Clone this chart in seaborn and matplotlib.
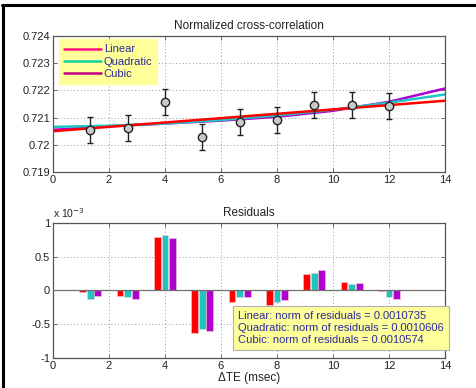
import numpy as np
import pandas as pd
import matplotlib
matplotlib.use("Agg")
import matplotlib.pyplot as plt
import seaborn as sns
from matplotlib.lines import Line2D

# ---- data ----
te = [1.333, 2.667, 4.0, 5.333, 6.667, 8.0, 9.333, 10.667, 12.0]
ncc = [0.72055, 0.72062, 0.72159, 0.72029, 0.72085, 0.72091, 0.72145, 0.72145, 0.72143]
ncc_err = [0.00048, 0.00048, 0.00048, 0.00048, 0.00048, 0.00048, 0.00048, 0.00048, 0.00048]

fit_x = [0, 2, 4, 6, 8, 10, 12, 14]
fit_linear = [0.72050, 0.72066, 0.72082, 0.72098, 0.72114, 0.72130, 0.72146, 0.72162]
fit_quadratic = [0.72066, 0.72070, 0.72078, 0.72091, 0.72108, 0.72129, 0.72155, 0.72185]
fit_cubic = [0.72055, 0.72068, 0.72078, 0.72089, 0.72103, 0.72125, 0.72158, 0.72207]

res_linear = [-0.025, -0.08, 0.79, -0.63, -0.165, -0.22, 0.24, 0.12, -0.01]
res_quadratic = [-0.12, -0.10, 0.82, -0.57, -0.10, -0.17, 0.26, 0.095, -0.095]
res_cubic = [-0.085, -0.12, 0.78, -0.60, -0.10, -0.145, 0.30, 0.115, -0.125]

fit_names = ["Linear", "Quadratic", "Cubic"]
norms = ["0.0010735", "0.0010606", "0.0010574"]

plot_colors = ["#FF0000", "#20C4C4", "#B000D0"]
legend_colors = ["#FF1080", "#10D0A0", "#C00080"]
text_blue = "#2A2AA0"

sns.set_theme(style="white")
plt.rcParams["font.family"] = ["Liberation Sans", "DejaVu Sans"]
plt.rcParams["font.size"] = 8

fig = plt.figure(figsize=(4.76, 3.88), dpi=100)
fig.patch.set_facecolor("white")
ax1 = fig.add_axes([0.1113, 0.5567, 0.8235, 0.3505])
ax2 = fig.add_axes([0.1113, 0.0773, 0.8235, 0.348])

def style_axes(ax):
    for s in ax.spines.values():
        s.set_visible(True)
        s.set_color("#555555")
        s.set_linewidth(0.9)
    ax.tick_params(direction="in", length=3, width=0.6, color="#555555",
                   labelsize=8, top=True, right=True, bottom=True, left=True,
                   labelcolor="#222222", pad=2)
    ax.grid(True, linestyle=(0, (1, 2.5)), color="#9A9A9A", linewidth=0.7)
    ax.set_axisbelow(True)

# ---- top panel ----
fits_df = pd.DataFrame({
    "x": fit_x * 3,
    "y": fit_linear + fit_quadratic + fit_cubic,
    "fit": ["Linear"] * len(fit_x) + ["Quadratic"] * len(fit_x) + ["Cubic"] * len(fit_x),
})
# draw Cubic, Quadratic, then Linear on top (as in reference)
for name, col in zip(["Cubic", "Quadratic", "Linear"], [plot_colors[2], plot_colors[1], plot_colors[0]]):
    sub = fits_df[fits_df["fit"] == name]
    sns.lineplot(data=sub, x="x", y="y", color=col, linewidth=1.8, ax=ax1, legend=False)

ax1.errorbar(te, ncc, yerr=ncc_err, fmt="none", ecolor="#222222", elinewidth=1.0,
             capsize=2.2, capthick=1.0, zorder=4)
sns.scatterplot(x=te, y=ncc, ax=ax1, s=36, color="#C8C8C8", edgecolor="#222222",
                linewidth=1.0, zorder=5)

ax1.set_xlim(0, 14)
ax1.set_ylim(0.719, 0.724)
ax1.set_xticks(range(0, 15, 2))
ax1.set_yticks([0.719, 0.720, 0.721, 0.722, 0.723, 0.724])
ax1.set_yticklabels(["0.719", "0.72", "0.721", "0.722", "0.723", "0.724"])
ax1.set_xlabel("")
ax1.set_ylabel("")
ax1.set_title("Normalized cross-correlation", fontsize=8.5, color="#222222", pad=5)
style_axes(ax1)

handles = [Line2D([0], [0], color=c, lw=1.8) for c in legend_colors]
leg = ax1.legend(handles, fit_names, loc="upper left", bbox_to_anchor=(0.015, 0.975),
                 frameon=True, fancybox=False, fontsize=8, handlelength=3.3,
                 handletextpad=0.3, borderpad=0.45, labelspacing=0.2,
                 borderaxespad=0.0)
leg.get_frame().set_facecolor("#FFFF99")
leg.get_frame().set_edgecolor("#FFFF99")
leg.get_frame().set_alpha(1.0)
for t in leg.get_texts():
    t.set_color(text_blue)

# ---- bottom panel ----
res_df = pd.DataFrame({
    "x": te * 3,
    "res": res_linear + res_quadratic + res_cubic,
    "fit": ["Linear"] * len(te) + ["Quadratic"] * len(te) + ["Cubic"] * len(te),
})
sns.barplot(data=res_df, x="x", y="res", hue="fit", hue_order=fit_names,
            palette=plot_colors, native_scale=True, width=0.61, gap=0.1,
            ax=ax2, legend=False, saturation=1, edgecolor="#F0D0D0", linewidth=0.4)
ax2.axhline(0, color="#707070", linewidth=0.9, zorder=3)
ax2.set_xlim(0, 14)
ax2.set_ylim(-1, 1)
ax2.set_xticks(range(0, 15, 2))
ax2.set_xticklabels([str(v) for v in range(0, 15, 2)])
ax2.set_yticks([-1, -0.5, 0, 0.5, 1])
ax2.set_yticklabels(["-1", "-0.5", "0", "0.5", "1"])
ax2.set_ylabel("")
ax2.set_xlabel("\u0394TE (msec)", fontsize=8.5, color="#222222", labelpad=1)
ax2.set_title("Residuals", fontsize=8.5, color="#222222", pad=5)
style_axes(ax2)
ax2.text(0.0, 1.025, "x 10$^{-3}$", transform=ax2.transAxes, fontsize=7.5,
         color="#222222", ha="left", va="bottom")

txt = "\n".join(f"{n}: norm of residuals = {v}" for n, v in zip(fit_names, norms))
ax2.text(0.473, 0.097, txt, transform=ax2.transAxes, fontsize=8, color=text_blue,
         ha="left", va="bottom", linespacing=1.25, zorder=6,
         bbox=dict(boxstyle="square,pad=0.45", facecolor="#FFFF99", edgecolor="#B0B0B0",
                   linewidth=0.8))

# ---- outer black frame (top and left) ----
W, H = 476.0, 388.0
fig.add_artist(Line2D([2 / W, 1.0], [1 - 5 / H, 1 - 5 / H], color="black", lw=2.2,
                      transform=fig.transFigure))
fig.add_artist(Line2D([3 / W, 3 / W], [0.0, 1 - 5 / H], color="black", lw=2.2,
                      transform=fig.transFigure))

fig.savefig("out.png", dpi=100, facecolor="white")
